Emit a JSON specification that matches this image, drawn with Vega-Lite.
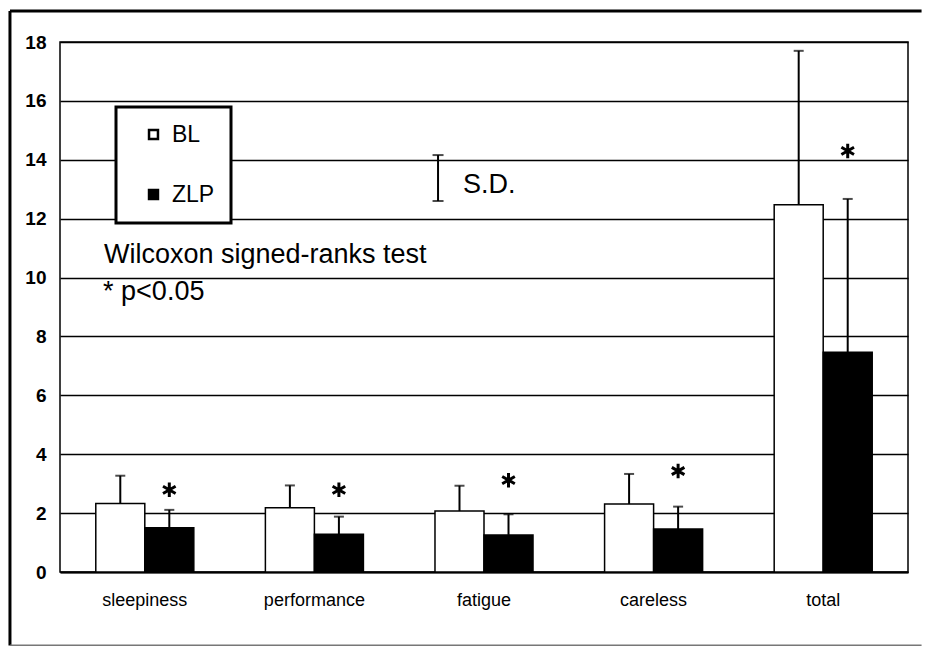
{
  "$schema": "https://vega.github.io/schema/vega-lite/v6.json",
  "width": 848,
  "height": 530,
  "autosize": {"type": "none"},
  "padding": {"left": 60, "top": 42, "right": 17, "bottom": 74},
  "background": "white",
  "config": {
    "view": {"stroke": "black", "strokeWidth": 1.5, "fill": "white"},
    "font": "Liberation Sans",
    "legend": {
      "orient": "none",
      "legendX": 56,
      "legendY": 65,
      "padding": 16,
      "strokeColor": "black",
      "strokeWidth": 3,
      "fillColor": "white",
      "symbolType": "square",
      "symbolSize": 80,
      "symbolStrokeColor": "black",
      "symbolStrokeWidth": 2.5,
      "labelFontSize": 23,
      "labelFont": "Liberation Sans",
      "labelColor": "black",
      "rowPadding": 36,
      "symbolOffset": 10,
      "labelOffset": 7
    }
  },
  "datasets": {
    "bars": [
      {"cat": "sleepiness", "group": "BL", "mean": 2.33, "upper": 3.27},
      {"cat": "sleepiness", "group": "ZLP", "mean": 1.50, "upper": 2.11},
      {"cat": "performance", "group": "BL", "mean": 2.18, "upper": 2.94},
      {"cat": "performance", "group": "ZLP", "mean": 1.28, "upper": 1.88},
      {"cat": "fatigue", "group": "BL", "mean": 2.07, "upper": 2.93},
      {"cat": "fatigue", "group": "ZLP", "mean": 1.26, "upper": 1.96},
      {"cat": "careless", "group": "BL", "mean": 2.31, "upper": 3.33},
      {"cat": "careless", "group": "ZLP", "mean": 1.46, "upper": 2.22},
      {"cat": "total", "group": "BL", "mean": 12.47, "upper": 17.7},
      {"cat": "total", "group": "ZLP", "mean": 7.46, "upper": 12.67}
    ],
    "stars": [
      {"cat": "sleepiness", "group": "ZLP", "star": 2.79},
      {"cat": "performance", "group": "ZLP", "star": 2.79},
      {"cat": "fatigue", "group": "ZLP", "star": 3.12},
      {"cat": "careless", "group": "ZLP", "star": 3.43},
      {"cat": "total", "group": "ZLP", "star": 14.3}
    ],
    "notes": [
      {"text": "Wilcoxon signed-ranks test", "ax": 0.259, "ay": 10.5},
      {"text": "* p<0.05", "ax": 0.254, "ay": 9.24},
      {"text": "S.D.", "ax": 2.376, "ay": 12.87}
    ],
    "sdkey": [
      {"ax": 2.229, "lo": 12.6, "hi": 14.16}
    ]
  },
  "resolve": {"scale": {"x": "independent"}},
  "layer": [
    {
      "data": {"name": "bars"},
      "mark": {"type": "bar", "stroke": "black", "strokeWidth": 1.5},
      "encoding": {
        "x": {
          "field": "cat", "type": "nominal",
          "sort": ["sleepiness", "performance", "fatigue", "careless", "total"],
          "scale": {"paddingInner": 0.422, "paddingOuter": 0.211},
          "axis": {"orient": "bottom", "title": null, "labelAngle": 0, "labelFontSize": 18, "labelFont": "Liberation Sans", "labelColor": "black", "labelPadding": 19, "ticks": false, "domain": true, "domainColor": "black", "domainWidth": 2, "grid": false}
        },
        "xOffset": {"field": "group", "type": "nominal", "sort": ["BL", "ZLP"], "scale": {"paddingInner": 0, "paddingOuter": 0}},
        "y": {
          "field": "mean", "type": "quantitative",
          "scale": {"domain": [0, 18], "nice": false},
          "axis": {"orient": "left", "title": null, "values": [0, 2, 4, 6, 8, 10, 12, 14, 16, 18], "labelFontSize": 19, "labelFontWeight": "bold", "labelFont": "Liberation Sans", "labelColor": "black", "labelPadding": 14, "ticks": false, "domain": false, "grid": true, "gridColor": "black", "gridWidth": 1.5, "gridOpacity": 1}
        },
        "color": {
          "field": "group", "type": "nominal",
          "scale": {"domain": ["BL", "ZLP"], "range": ["white", "black"]},
          "legend": {"title": null}
        }
      }
    },
    {
      "layer": [
        {
          "data": {"name": "bars"},
          "mark": {"type": "rule", "color": "black", "strokeWidth": 2},
          "encoding": {
            "x": {"field": "cat", "type": "nominal", "sort": ["sleepiness", "performance", "fatigue", "careless", "total"], "scale": {"paddingInner": 0.422, "paddingOuter": 0.211}, "axis": null},
            "xOffset": {"field": "group", "type": "nominal", "sort": ["BL", "ZLP"], "scale": {"paddingInner": 0, "paddingOuter": 0}},
            "y": {"field": "mean", "type": "quantitative"},
            "y2": {"field": "upper"}
          }
        },
        {
          "data": {"name": "bars"},
          "mark": {"type": "tick", "color": "black", "size": 10, "thickness": 2, "orient": "horizontal"},
          "encoding": {
            "x": {"field": "cat", "type": "nominal", "sort": ["sleepiness", "performance", "fatigue", "careless", "total"], "axis": null},
            "xOffset": {"field": "group", "type": "nominal", "sort": ["BL", "ZLP"]},
            "y": {"field": "upper", "type": "quantitative"}
          }
        },
        {
          "data": {"name": "stars"},
          "mark": {"type": "point", "shape": "M0,-1L0,1M-0.87,-0.5L0.87,0.5M-0.87,0.5L0.87,-0.5", "filled": false, "stroke": "black", "strokeWidth": 3, "size": 210, "opacity": 1, "xOffset": -7},
          "encoding": {
            "x": {"field": "cat", "type": "nominal", "sort": ["sleepiness", "performance", "fatigue", "careless", "total"], "axis": null},
            "xOffset": {"field": "group", "type": "nominal", "sort": ["BL", "ZLP"]},
            "y": {"field": "star", "type": "quantitative"}
          }
        }
      ]
    },
    {
      "layer": [
        {
          "data": {"values": [{"frame": "outer"}]},
          "mark": {"type": "rule", "color": "black", "strokeWidth": 3},
          "encoding": {
            "x": {"datum": -0.295, "type": "quantitative", "scale": {"domain": [0, 5], "nice": false, "zero": false}, "axis": null},
            "x2": {"datum": 5.08},
            "y": {"datum": 19.05, "type": "quantitative"}
          }
        },
        {
          "data": {"values": [{"frame": "outer"}]},
          "mark": {"type": "rule", "color": "black", "strokeWidth": 3},
          "encoding": {
            "x": {"datum": -0.295, "type": "quantitative", "axis": null},
            "y": {"datum": 19.05, "type": "quantitative"},
            "y2": {"datum": -2.5}
          }
        },
        {
          "data": {"values": [{"frame": "outer"}]},
          "mark": {"type": "rule", "color": "#777777", "strokeWidth": 2},
          "encoding": {
            "x": {"datum": -0.295, "type": "quantitative", "axis": null},
            "x2": {"datum": 5.08},
            "y": {"datum": -2.5, "type": "quantitative"}
          }
        },
        {
          "data": {"name": "notes"},
          "mark": {"type": "text", "align": "left", "baseline": "alphabetic", "fontSize": 27, "font": "Liberation Sans", "color": "black"},
          "encoding": {
            "x": {"field": "ax", "type": "quantitative", "axis": null},
            "y": {"field": "ay", "type": "quantitative"},
            "text": {"field": "text"}
          }
        },
        {
          "data": {"name": "sdkey"},
          "mark": {"type": "rule", "color": "black", "strokeWidth": 2},
          "encoding": {
            "x": {"field": "ax", "type": "quantitative", "axis": null},
            "y": {"field": "lo", "type": "quantitative"},
            "y2": {"field": "hi"}
          }
        },
        {
          "data": {"name": "sdkey"},
          "mark": {"type": "tick", "color": "black", "size": 11, "thickness": 2, "orient": "horizontal"},
          "encoding": {
            "x": {"field": "ax", "type": "quantitative", "axis": null},
            "y": {"field": "lo", "type": "quantitative"}
          }
        },
        {
          "data": {"name": "sdkey"},
          "mark": {"type": "tick", "color": "black", "size": 11, "thickness": 2, "orient": "horizontal"},
          "encoding": {
            "x": {"field": "ax", "type": "quantitative", "axis": null},
            "y": {"field": "hi", "type": "quantitative"}
          }
        }
      ]
    }
  ]
}
